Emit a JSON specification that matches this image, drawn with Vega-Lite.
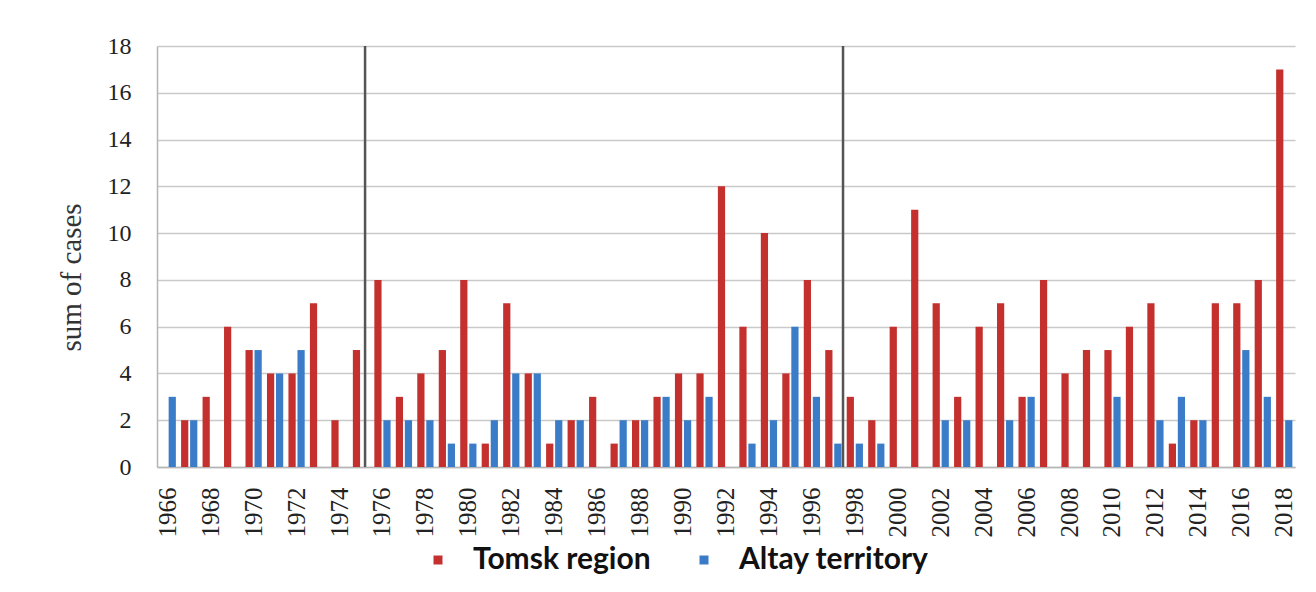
{
  "$schema": "https://vega.github.io/schema/vega-lite/v6.json",
  "autosize": {"type": "none"},
  "width": 1138,
  "height": 421,
  "padding": {"left": 157, "top": 46, "right": 21, "bottom": 125},
  "background": "white",
  "config": {
    "view": {"stroke": null},
    "axis": {"labelFont": "Liberation Serif", "titleFont": "Liberation Serif", "labelColor": "#222", "titleColor": "#333"}
  },
  "data": {"values": [
    {"year":1966,"region":"Tomsk region","cases":0},{"year":1966,"region":"Altay territory","cases":3},
    {"year":1967,"region":"Tomsk region","cases":2},{"year":1967,"region":"Altay territory","cases":2},
    {"year":1968,"region":"Tomsk region","cases":3},{"year":1968,"region":"Altay territory","cases":0},
    {"year":1969,"region":"Tomsk region","cases":6},{"year":1969,"region":"Altay territory","cases":0},
    {"year":1970,"region":"Tomsk region","cases":5},{"year":1970,"region":"Altay territory","cases":5},
    {"year":1971,"region":"Tomsk region","cases":4},{"year":1971,"region":"Altay territory","cases":4},
    {"year":1972,"region":"Tomsk region","cases":4},{"year":1972,"region":"Altay territory","cases":5},
    {"year":1973,"region":"Tomsk region","cases":7},{"year":1973,"region":"Altay territory","cases":0},
    {"year":1974,"region":"Tomsk region","cases":2},{"year":1974,"region":"Altay territory","cases":0},
    {"year":1975,"region":"Tomsk region","cases":5},{"year":1975,"region":"Altay territory","cases":0},
    {"year":1976,"region":"Tomsk region","cases":8},{"year":1976,"region":"Altay territory","cases":2},
    {"year":1977,"region":"Tomsk region","cases":3},{"year":1977,"region":"Altay territory","cases":2},
    {"year":1978,"region":"Tomsk region","cases":4},{"year":1978,"region":"Altay territory","cases":2},
    {"year":1979,"region":"Tomsk region","cases":5},{"year":1979,"region":"Altay territory","cases":1},
    {"year":1980,"region":"Tomsk region","cases":8},{"year":1980,"region":"Altay territory","cases":1},
    {"year":1981,"region":"Tomsk region","cases":1},{"year":1981,"region":"Altay territory","cases":2},
    {"year":1982,"region":"Tomsk region","cases":7},{"year":1982,"region":"Altay territory","cases":4},
    {"year":1983,"region":"Tomsk region","cases":4},{"year":1983,"region":"Altay territory","cases":4},
    {"year":1984,"region":"Tomsk region","cases":1},{"year":1984,"region":"Altay territory","cases":2},
    {"year":1985,"region":"Tomsk region","cases":2},{"year":1985,"region":"Altay territory","cases":2},
    {"year":1986,"region":"Tomsk region","cases":3},{"year":1986,"region":"Altay territory","cases":0},
    {"year":1987,"region":"Tomsk region","cases":1},{"year":1987,"region":"Altay territory","cases":2},
    {"year":1988,"region":"Tomsk region","cases":2},{"year":1988,"region":"Altay territory","cases":2},
    {"year":1989,"region":"Tomsk region","cases":3},{"year":1989,"region":"Altay territory","cases":3},
    {"year":1990,"region":"Tomsk region","cases":4},{"year":1990,"region":"Altay territory","cases":2},
    {"year":1991,"region":"Tomsk region","cases":4},{"year":1991,"region":"Altay territory","cases":3},
    {"year":1992,"region":"Tomsk region","cases":12},{"year":1992,"region":"Altay territory","cases":0},
    {"year":1993,"region":"Tomsk region","cases":6},{"year":1993,"region":"Altay territory","cases":1},
    {"year":1994,"region":"Tomsk region","cases":10},{"year":1994,"region":"Altay territory","cases":2},
    {"year":1995,"region":"Tomsk region","cases":4},{"year":1995,"region":"Altay territory","cases":6},
    {"year":1996,"region":"Tomsk region","cases":8},{"year":1996,"region":"Altay territory","cases":3},
    {"year":1997,"region":"Tomsk region","cases":5},{"year":1997,"region":"Altay territory","cases":1},
    {"year":1998,"region":"Tomsk region","cases":3},{"year":1998,"region":"Altay territory","cases":1},
    {"year":1999,"region":"Tomsk region","cases":2},{"year":1999,"region":"Altay territory","cases":1},
    {"year":2000,"region":"Tomsk region","cases":6},{"year":2000,"region":"Altay territory","cases":0},
    {"year":2001,"region":"Tomsk region","cases":11},{"year":2001,"region":"Altay territory","cases":0},
    {"year":2002,"region":"Tomsk region","cases":7},{"year":2002,"region":"Altay territory","cases":2},
    {"year":2003,"region":"Tomsk region","cases":3},{"year":2003,"region":"Altay territory","cases":2},
    {"year":2004,"region":"Tomsk region","cases":6},{"year":2004,"region":"Altay territory","cases":0},
    {"year":2005,"region":"Tomsk region","cases":7},{"year":2005,"region":"Altay territory","cases":2},
    {"year":2006,"region":"Tomsk region","cases":3},{"year":2006,"region":"Altay territory","cases":3},
    {"year":2007,"region":"Tomsk region","cases":8},{"year":2007,"region":"Altay territory","cases":0},
    {"year":2008,"region":"Tomsk region","cases":4},{"year":2008,"region":"Altay territory","cases":0},
    {"year":2009,"region":"Tomsk region","cases":5},{"year":2009,"region":"Altay territory","cases":0},
    {"year":2010,"region":"Tomsk region","cases":5},{"year":2010,"region":"Altay territory","cases":3},
    {"year":2011,"region":"Tomsk region","cases":6},{"year":2011,"region":"Altay territory","cases":0},
    {"year":2012,"region":"Tomsk region","cases":7},{"year":2012,"region":"Altay territory","cases":2},
    {"year":2013,"region":"Tomsk region","cases":1},{"year":2013,"region":"Altay territory","cases":3},
    {"year":2014,"region":"Tomsk region","cases":2},{"year":2014,"region":"Altay territory","cases":2},
    {"year":2015,"region":"Tomsk region","cases":7},{"year":2015,"region":"Altay territory","cases":0},
    {"year":2016,"region":"Tomsk region","cases":7},{"year":2016,"region":"Altay territory","cases":5},
    {"year":2017,"region":"Tomsk region","cases":8},{"year":2017,"region":"Altay territory","cases":3},
    {"year":2018,"region":"Tomsk region","cases":17},{"year":2018,"region":"Altay territory","cases":2}
  ]},
  "layer": [
    {
      "mark": {"type": "bar"},
      "encoding": {
        "x": {
          "field": "year", "type": "ordinal",
          "scale": {"paddingInner": 0, "paddingOuter": 0},
          "axis": {
            "title": null,
            "values": [1966,1968,1970,1972,1974,1976,1978,1980,1982,1984,1986,1988,1990,1992,1994,1996,1998,2000,2002,2004,2006,2008,2010,2012,2014,2016,2018],
            "labelAngle": 270,
            "labelFontSize": 25,
            "labelPadding": 20,
            "ticks": false,
            "domainColor": "#b5b5b5",
            "domainWidth": 1.5,
            "grid": false
          }
        },
        "xOffset": {
          "field": "region", "type": "nominal",
          "scale": {"domain": ["Tomsk region", "Altay territory"], "paddingInner": 0.2, "paddingOuter": 0.29}
        },
        "y": {
          "field": "cases", "type": "quantitative",
          "scale": {"domain": [0, 18], "nice": false},
          "axis": {
            "values": [0,2,4,6,8,10,12,14,16,18],
            "title": "sum of cases",
            "titleFontSize": 29,
            "titleFontWeight": "normal",
            "titleX": -86,
            "titleY": 231,
            "titleAngle": 270,
            "titleAlign": "center",
            "titleBaseline": "middle",
            "labelFontSize": 24,
            "labelPadding": 26,
            "ticks": false,
            "grid": true,
            "gridColor": "#c9c9c9",
            "gridWidth": 1.5,
            "domainColor": "#b5b5b5",
            "domainWidth": 1.5
          }
        },
        "color": {
          "field": "region", "type": "nominal",
          "scale": {"domain": ["Tomsk region", "Altay territory"], "range": ["#c3302d", "#3a7cc8"]},
          "legend": {
            "title": null,
            "orient": "none",
            "direction": "horizontal",
            "legendX": 266,
            "legendY": 499,
            "symbolType": "square",
            "symbolSize": 81,
            "labelFont": "Lato",
            "labelFontSize": 30,
            "labelFontWeight": "bold",
            "labelColor": "#111",
            "labelLimit": 0,
            "labelOffset": 20,
            "columnPadding": 38
          }
        }
      }
    },
    {
      "data": {"values": [{"year": 1975}]},
      "mark": {"type": "rule", "color": "#555", "strokeWidth": 2.5},
      "encoding": {"x": {"field": "year", "type": "ordinal", "bandPosition": 0.69}}
    },
    {
      "data": {"values": [{"year": 1997}]},
      "mark": {"type": "rule", "color": "#555", "strokeWidth": 2.5},
      "encoding": {"x": {"field": "year", "type": "ordinal", "bandPosition": 0.95}}
    }
  ]
}
